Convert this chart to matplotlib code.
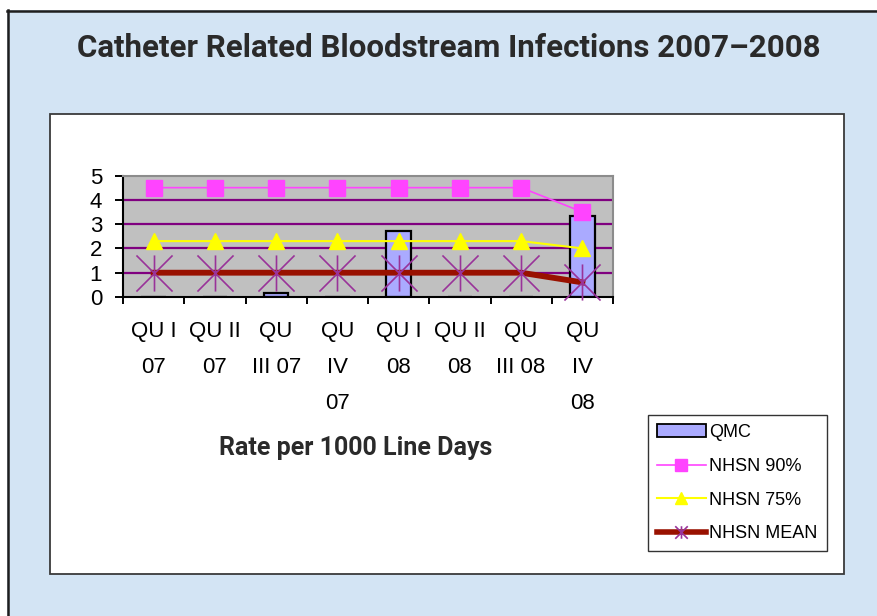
import matplotlib
matplotlib.use("Agg")
import matplotlib.pyplot as plt
from matplotlib.patches import Rectangle, Patch
from matplotlib.lines import Line2D
from matplotlib.path import Path
import numpy as np

# data
quarters = ["QU I\n07", "QU II\n07", "QU\nIII 07", "QU\nIV\n07",
            "QU I\n08", "QU II\n08", "QU\nIII 08", "QU\nIV\n08"]
qmc = [0, 0, 0.17, 0, 2.7, 0, 0, 3.35]
nhsn_90 = [4.5, 4.5, 4.5, 4.5, 4.5, 4.5, 4.5, 3.5]
nhsn_75 = [2.3, 2.3, 2.3, 2.3, 2.3, 2.3, 2.3, 2.0]
nhsn_mean = [1.0, 1.0, 1.0, 1.0, 1.0, 1.0, 1.0, 0.6]

W, H = 877, 616
plt.rcParams['font.family'] = ['Liberation Sans', 'DejaVu Sans']

fig = plt.figure(figsize=(W / 100, H / 100), dpi=100)
fig.patch.set_facecolor('white')

def fx(px):
    return px / W

def fy(py):
    return 1 - py / H

# outer blue panel with dark left/top border
fig.patches.append(Rectangle((fx(7), -0.1), 1.2, fy(10) + 0.1, transform=fig.transFigure,
                             facecolor='#D3E4F4', edgecolor='none', zorder=-10))
fig.lines.append(Line2D([fx(8), fx(8)], [-0.1, fy(10)], transform=fig.transFigure,
                        color='#1e1e1e', lw=1.8, zorder=-9))
fig.lines.append(Line2D([fx(7), 1.1], [fy(11), fy(11)], transform=fig.transFigure,
                        color='#1e1e1e', lw=1.8, zorder=-9))
# white chart box
fig.patches.append(Rectangle((fx(50), fy(574)), fx(844) - fx(50), fy(114) - fy(574),
                             transform=fig.transFigure, facecolor='white',
                             edgecolor='#3a3a3a', lw=1.3, zorder=-8))

ax = fig.add_axes([fx(123), fy(297), fx(613) - fx(123), fy(175.5) - fy(297)])
ax.set_facecolor('#C0C0C0')

x = np.arange(len(quarters))

for v in [1, 2, 3, 4]:
    ax.axhline(v, color='#800080', lw=1.6, zorder=1)

ax.bar(x, qmc, width=0.4, color='#AAAAFF', edgecolor='black', lw=1.6, zorder=2)

star = Path([(-1, -1), (1, 1), (-1, 1), (1, -1), (0, -1), (0, 1)],
            [Path.MOVETO, Path.LINETO] * 3)

ax.plot(x, nhsn_90, color='#FF44FF', lw=1.2, marker='s', markersize=11,
        markerfacecolor='#FF44FF', markeredgecolor='#FF44FF', zorder=4, clip_on=False)
ax.plot(x, nhsn_75, color='#FFFF00', lw=1.5, marker='^', markersize=11,
        markerfacecolor='#FFFF00', markeredgecolor='#FFFF00', zorder=4, clip_on=False)
ax.plot(x, nhsn_mean, color='#991100', lw=4.2, zorder=3, clip_on=False)
ax.plot(x, nhsn_mean, linestyle='none', marker=star, markersize=26,
        markeredgecolor='#993399', markeredgewidth=1.2, zorder=5, clip_on=False)

ax.set_xlim(-0.5, len(quarters) - 0.5)
ax.set_ylim(0, 5)
ax.set_yticks(range(6))
ax.tick_params(axis='y', labelsize=16, length=6, width=1.4, pad=9, direction='out')

ax.set_xticks(x)
ax.set_xticklabels(quarters, fontsize=16, linespacing=1.95, va='top')
ax.set_xticks(np.arange(-0.5, len(quarters)), minor=True)
ax.tick_params(axis='x', which='major', length=0, pad=17)
ax.tick_params(axis='x', which='minor', length=5, width=1.4, direction='out')

for side in ['left', 'bottom']:
    ax.spines[side].set_color('black')
    ax.spines[side].set_linewidth(1.5)
for side in ['top', 'right']:
    ax.spines[side].set_color('#8c8c8c')
    ax.spines[side].set_linewidth(1.5)

fig.text(fx(449), fy(48), "Catheter Related Bloodstream Infections 2007\u20132008",
         ha='center', va='center', fontsize=22.5, fontweight='bold',
         family=['Roboto', 'DejaVu Sans'], color='#2a2a2a')
fig.text(fx(356), fy(448), "Rate per 1000 Line Days",
         ha='center', va='center', fontsize=18, fontweight='bold',
         family=['Roboto', 'DejaVu Sans'], color='#2a2a2a')

handles = [
    Patch(facecolor='#AAAAFF', edgecolor='black', lw=1.3),
    Line2D([], [], color='#FF44FF', lw=1.2, marker='s', markersize=8,
           markerfacecolor='#FF44FF', markeredgecolor='#FF44FF'),
    Line2D([], [], color='#FFFF00', lw=1.5, marker='^', markersize=8,
           markerfacecolor='#FFFF00', markeredgecolor='#FFFF00'),
    Line2D([], [], color='#991100', lw=4, marker=star, markersize=9,
           markeredgecolor='#993399', markeredgewidth=1.2),
]
labels = ["QMC", "NHSN 90%", "NHSN 75%", "NHSN MEAN"]
leg = fig.legend(handles, labels, loc='upper left', bbox_to_anchor=(fx(648), fy(415)),
                 fontsize=13, frameon=True, fancybox=False, shadow=False,
                 borderpad=0.5, labelspacing=0.93, handlelength=2.7, handletextpad=0.2,
                 borderaxespad=0)
leg.get_frame().set_edgecolor('black')
leg.get_frame().set_linewidth(1.0)
leg.get_frame().set_facecolor('white')

fig.savefig("out.png", dpi=100)
